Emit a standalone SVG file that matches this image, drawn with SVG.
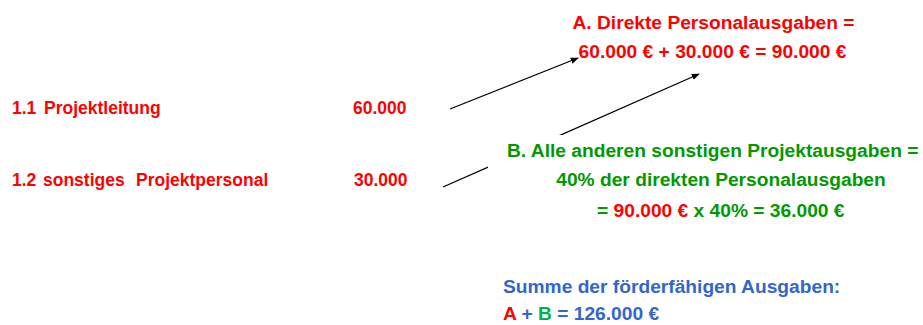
<svg xmlns="http://www.w3.org/2000/svg" width="923" height="325" viewBox="0 0 923 325">
<defs>
<style>
text{font-family:"Liberation Sans",Arial,sans-serif;font-weight:bold;font-size:19.2px}
.r{fill:#FF0000}
.g{fill:#009900}
.b{fill:#3366CC}
.gb{fill:#00B050}
.l{font-size:17.5px}
.conn{stroke:#000;stroke-width:1.3;fill:none;marker-end:url(#ah)}
</style>
<marker id="ah" viewBox="0 0 10 10" refX="9" refY="5" markerWidth="8" markerHeight="8" markerUnits="userSpaceOnUse" orient="auto">
<path d="M0,1 L10,5 L0,9 z" fill="#000"/>
</marker>
</defs>
<rect width="923" height="325" fill="#fff"/>
<g id="connectors">
<line class="conn" x1="450" y1="109" x2="578" y2="58"/>
<line class="conn" x1="443" y1="187" x2="699" y2="74"/>
</g>
<g id="item11">
<text class="r l" y="114"><tspan x="12">1.1</tspan><tspan x="44">Projektleitung</tspan></text>
<text class="r l" x="353" y="114">60.000</text>
</g>
<g id="item12">
<text class="r l" y="186"><tspan x="12">1.2</tspan><tspan x="43">sonstiges</tspan><tspan x="136">Projektpersonal</tspan></text>
<text class="r l" x="354" y="186">30.000</text>
</g>
<g id="nodeA">
<text class="r" x="713.5" y="29" text-anchor="middle">A. Direkte Personalausgaben =</text>
<text class="r" x="712.5" y="58" text-anchor="middle">60.000 € + 30.000 € = 90.000 €</text>
</g>
<g id="nodeB">
<rect x="488" y="135" width="432" height="90" fill="#fff"/>
<text class="g" x="507" y="157">B. Alle anderen sonstigen Projektausgaben =</text>
<text class="g" x="721" y="186" text-anchor="middle">40% der direkten Personalausgaben</text>
<text class="g" x="597" y="217">= <tspan class="r">90.000 €</tspan> x 40% = 36.000 €</text>
</g>
<g id="sum">
<text class="b" x="503" y="293">Summe der förderfähigen Ausgaben:</text>
<text class="b" x="503" y="320"><tspan class="r">A</tspan> + <tspan class="gb">B</tspan> = 126.000 €</text>
</g>
</svg>
